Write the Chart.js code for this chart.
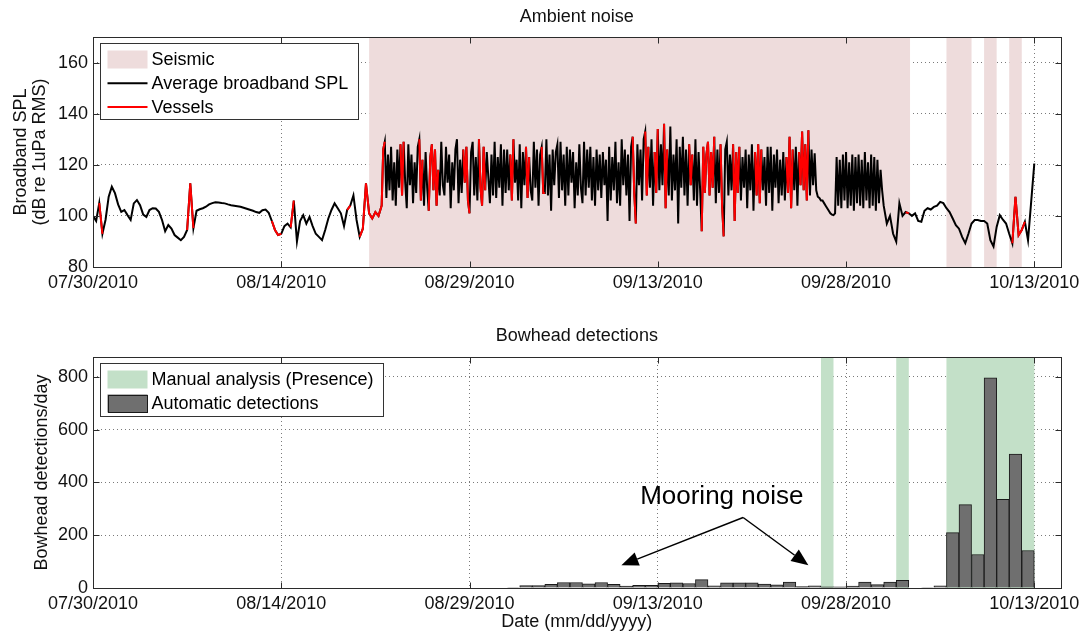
<!DOCTYPE html>
<html>
<head>
<meta charset="utf-8">
<title>Ambient noise and bowhead detections</title>
<script src="https://cdn.jsdelivr.net/npm/chart.js@4.4.0/dist/chart.umd.min.js"></script>
<style>
  body { margin: 0; background: #fff; }
  #wrap { position: relative; width: 1085px; height: 637px; }
  canvas { position: absolute; left: 0; }
  #noiseChart { top: 0; }
  #bowheadChart { top: 300px; }
</style>
</head>
<body>
<div id="wrap">
  <canvas id="noiseChart" width="1085" height="300"></canvas>
  <canvas id="bowheadChart" width="1085" height="337"></canvas>
</div>
<script>
// x axis is in days since 07/30/2010
var dateTicks = ['07/30/2010', '08/14/2010', '08/29/2010', '09/13/2010', '09/28/2010', '10/13/2010'];
var dateTickDays = [0, 15, 30, 45, 60, 75];
var xMaxDays = 77.1;

// broadband SPL (dB), before the survey: 6-hourly from day 0
var splEarlyStart = 0, splEarlyStep = 0.25;
var splEarly = [
  100, 98, 105, 93,          98.5, 107.5, 111.4, 108.9,  104.5, 101.6, 102.3, 100.3,
  98.4, 104.9, 106.2, 104.2, 100.5, 99.6, 102.3, 103,    102.9, 101.6, 98.4, 94,
  96.4, 95, 92.5, 91.5,      90.5, 91.8, 94.5, 112.7,    95.2, 102, 102.6, 103,
  103.6, 104.5, 105, 105.3,  105.2, 105, 104.9, 104.5,   104.2, 104, 103.8, 103.6,
  103.2, 102.8, 102.4, 102,  101.5, 101.2, 102.2, 102.5, 101.2, 98, 94.5, 92.5,
  93, 96, 97, 95.5,          106, 90, 98, 100.3,         97, 99.6, 96, 93,
  91.8, 90.5, 94.5, 99,      102.3, 104.9, 103, 101,     96, 102.3, 104, 108,
  98.4, 91.8, 95, 112.7,     101, 99, 101.5, 100
];
// during airgun activity: 3-hourly from day 23 to the end of day 62
var splSeismicStart = 23, splSeismicStep = 0.125;
var splSeismic = [
  104, 126, 129, 107, 124, 110, 127, 106,   121, 104, 126, 111, 128, 108, 129, 113,
  103, 128, 112, 124, 105, 121, 109, 127,   130, 106, 122, 104, 125, 111, 102, 123,
  128, 110, 126, 104, 118, 108, 129, 112,   108, 127, 113, 124, 103, 121, 110, 126,
  130, 105, 122, 109, 126, 113, 127, 106,   101, 125, 129, 108, 123, 106, 130, 111,
  104, 127, 110, 125, 115, 105, 124, 108,   129, 107, 123, 111, 128, 104, 126, 109,
  126, 110, 124, 106, 130, 113, 122, 106,   128, 103, 125, 112, 127, 107, 123, 110,
  106, 129, 111, 126, 104, 124, 127, 109,   109, 130, 108, 124, 102, 126, 112, 125,
  128, 107, 129, 110, 124, 104, 127, 108,   126, 113, 125, 103, 121, 108, 128, 111,
  105, 129, 108, 126, 111, 127, 106, 123,   104, 126, 110, 124, 107, 125, 112, 122,
  98, 127, 106, 123, 110, 129, 105, 121,    104, 130, 112, 126, 108, 124, 98, 127,
  131, 109, 97, 128, 112, 126, 106, 130,    133, 108, 127, 111, 130, 104, 125, 109,
  134, 110, 128, 112, 136, 103, 126, 108,   135, 106, 124, 110, 130, 97, 127, 111,
  131, 108, 126, 104, 128, 112, 124, 106,   130, 104, 125, 110, 94, 127, 109, 124,
  129, 108, 125, 111, 131, 105, 126, 109,   128, 104, 92, 126, 129, 108, 124, 110,
  128, 98, 125, 109, 127, 106, 123, 111,    126, 103, 124, 110, 128, 102, 125, 108,
  128, 105, 126, 110, 123, 104, 127, 109,   127, 102, 124, 111, 126, 105, 122, 108,
  125, 106, 123, 109, 131, 103, 126, 110,   127, 104, 125, 112, 133, 110, 128, 106,
  133.5, 108, 126, 112, 124.5, 110, 107.5, 107,
  106, 106, 105, 104, 103, 102, 101, 100.5, 100.3, 101, 123, 104, 122, 103, 124, 106,
  125, 103, 121, 104, 124, 102, 123, 105,   124, 104, 122, 103, 125, 106, 121, 103,
  124, 104, 123, 102, 122, 105, 118, 110
];
// after the survey: 6-hourly from day 63
var splLateStart = 63, splLateStep = 0.25;
var splLate = [
  104, 97, 100, 93,    89.9, 105, 100, 101.5, 101, 100, 101, 98,
  97.7, 102, 103, 102.5, 103.5, 104, 105.5, 105, 103, 101.5, 99, 96.4, 95, 91.8, 89.3, 93,
  97, 98.4, 98.4, 98,  98, 97, 90.5, 88,      95.7, 100.3, 98.5, 97, 93, 89.3, 107.5, 92.5,
  94.5, 97.7, 90.5, 105.5, 120.5
];
// periods (days) with vessels present
var vesselWindows = [
  [0.5, 0.75], [7.5, 8.0], [14.25, 15.0], [15.75, 16.0], [20.25, 20.5], [21.25, 22.75],
  [23.0, 23.25], [24.5, 24.75], [26.0, 26.25], [26.75, 27.5], [29.5, 30.0], [30.75, 31.25],
  [33.25, 33.5], [34.5, 34.75], [35.75, 36.0], [43.0, 43.25], [44.0, 44.25], [44.75, 45.0],
  [45.5, 45.75], [47.5, 47.75], [48.5, 49.5], [50.0, 50.25], [51.0, 51.5], [52.75, 53.25],
  [55.25, 55.75], [56.25, 57.0], [64.75, 65.0], [73.25, 74.25]
];
var seismicWindows = [[22, 65.1], [68, 70], [71, 72], [73, 74]];
var splTicks = [80, 100, 120, 140, 160];

// bowhead automatic detections per day, first bin starts on day 33
var detectFirstDay = 33;
var detectionsPerDay = [
  2, 9, 9, 14, 21, 21, 16, 21, 14, 7, 10, 10, 18, 20, 17, 32, 8, 20, 20, 20, 15, 12,
  22, 5, 8, 4, 4, 7, 22, 13, 22, 29, 0, 2, 8,
  210, 316, 127, 796, 336, 507, 142, 0, 0
];
var manualWindows = [[58, 59], [64, 65], [68, 75]];
var detectTicks = [0, 200, 400, 600, 800];

var seismicColor = '#eedcdc';
var manualColor = '#c3e0c8';
var barColor = '#6f6f6f';
var fontFamily = '"Liberation Sans", Arial, Helvetica, sans-serif';

function toPoints(values, start, step) {
  return values.map(function (v, i) { return { x: start + i * step, y: v }; });
}
var splPoints = toPoints(splEarly, splEarlyStart, splEarlyStep)
  .concat(toPoints(splSeismic, splSeismicStart, splSeismicStep))
  .concat(toPoints(splLate, splLateStart, splLateStep));

var vesselPoints = splPoints.map(function (p) {
  var hit = vesselWindows.some(function (w) { return p.x >= w[0] - 1e-6 && p.x <= w[1] + 1e-6; });
  return { x: p.x, y: hit ? p.y : null };
});
var detectionPoints = detectionsPerDay.map(function (v, i) {
  return { x: detectFirstDay + i + 0.5, y: v };
});

// shaded time windows behind the data
var bandsPlugin = {
  id: 'bands',
  beforeDatasetsDraw: function (chart, args, opts) {
    var ctx = chart.ctx, sx = chart.scales.x, a = chart.chartArea;
    ctx.save();
    ctx.fillStyle = opts.color;
    opts.windows.forEach(function (w) {
      var x0 = sx.getPixelForValue(w[0]), x1 = sx.getPixelForValue(w[1]);
      ctx.fillRect(x0, a.top, x1 - x0, a.bottom - a.top);
    });
    ctx.restore();
  }
};

// axes box with inward ticks, and the panel title
var framePlugin = {
  id: 'frame',
  afterDatasetsDraw: function (chart, args, opts) {
    var ctx = chart.ctx, a = chart.chartArea, sx = chart.scales.x, sy = chart.scales.y;
    var L = Math.round(a.left) + 0.5, R = Math.round(a.right) + 0.5;
    var T = Math.round(a.top) + 0.5, B = Math.round(a.bottom) + 0.5;
    ctx.save();
    ctx.strokeStyle = '#2b2b2b';
    ctx.lineWidth = 1;
    ctx.beginPath();
    sx.ticks.forEach(function (t) {
      var p = Math.round(sx.getPixelForValue(t.value)) + 0.5;
      ctx.moveTo(p, B); ctx.lineTo(p, B - 6);
      ctx.moveTo(p, T); ctx.lineTo(p, T + 6);
    });
    sy.ticks.forEach(function (t) {
      var p = Math.round(sy.getPixelForValue(t.value)) + 0.5;
      ctx.moveTo(L, p); ctx.lineTo(L + 6, p);
      ctx.moveTo(R, p); ctx.lineTo(R - 6, p);
    });
    ctx.stroke();
    ctx.strokeRect(L, T, R - L, B - T);

    ctx.fillStyle = '#111';
    ctx.font = '18px ' + fontFamily;
    ctx.textAlign = 'center';
    ctx.textBaseline = 'middle';
    ctx.fillText(opts.title, (a.left + a.right) / 2, opts.titleY);
    ctx.restore();
  }
};

// boxed legend in the upper left corner of the axes
var boxLegendPlugin = {
  id: 'boxLegend',
  afterDraw: function (chart, args, opts) {
    var ctx = chart.ctx, a = chart.chartArea;
    ctx.save();
    ctx.font = '18px ' + fontFamily;
    var textW = 0;
    opts.items.forEach(function (it) { textW = Math.max(textW, ctx.measureText(it.label).width); });
    var left = Math.round(a.left + 7) + 0.5, top = Math.round(a.top + 6) + 0.5;
    var w = Math.round(51 + textW + 10);
    var h = Math.round(16 + (opts.items.length - 1) * opts.rowH + 13);
    ctx.fillStyle = '#fff';
    ctx.fillRect(left, top, w, h);
    ctx.strokeStyle = '#333';
    ctx.lineWidth = 1;
    ctx.strokeRect(left, top, w, h);

    opts.items.forEach(function (it, i) {
      var cy = top + 16 + i * opts.rowH;
      if (it.type === 'patch') {
        ctx.fillStyle = it.color;
        ctx.fillRect(left + 7, cy - 9, 40, 18);
        if (it.edge) {
          ctx.strokeStyle = it.edge;
          ctx.strokeRect(Math.round(left + 7) + 0.5, Math.round(cy - 9) + 0.5, 39, 17);
        }
      } else {
        ctx.strokeStyle = it.color;
        ctx.lineWidth = 2;
        ctx.beginPath();
        ctx.moveTo(left + 7, cy);
        ctx.lineTo(left + 47, cy);
        ctx.stroke();
        ctx.lineWidth = 1;
      }
      ctx.fillStyle = '#000';
      ctx.textAlign = 'left';
      ctx.textBaseline = 'middle';
      ctx.fillText(it.label, left + 51, cy + 1);
    });
    ctx.restore();
  }
};

// "Mooring noise" note with two arrows, placed in data units
var mooringNote = { text: 'Mooring noise', at: [50.1, 344], from: [51.8, 267], to: [[42.1, 86], [57.0, 86]] };

var notePlugin = {
  id: 'note',
  afterDraw: function (chart) {
    var ctx = chart.ctx, sx = chart.scales.x, sy = chart.scales.y;
    var fx = sx.getPixelForValue(mooringNote.from[0]), fy = sy.getPixelForValue(mooringNote.from[1]);
    ctx.save();
    ctx.fillStyle = '#000';
    ctx.strokeStyle = '#000';
    ctx.lineWidth = 1.5;
    ctx.font = '26px ' + fontFamily;
    ctx.textAlign = 'center';
    ctx.textBaseline = 'middle';
    ctx.fillText(mooringNote.text, sx.getPixelForValue(mooringNote.at[0]), sy.getPixelForValue(mooringNote.at[1]));
    mooringNote.to.forEach(function (p) {
      var tx = sx.getPixelForValue(p[0]), ty = sy.getPixelForValue(p[1]);
      var ang = Math.atan2(ty - fy, tx - fx);
      var len = 17, half = 7;
      var bx = tx - len * Math.cos(ang), by = ty - len * Math.sin(ang);
      ctx.beginPath();
      ctx.moveTo(fx, fy);
      ctx.lineTo(bx, by);
      ctx.stroke();
      ctx.beginPath();
      ctx.moveTo(tx, ty);
      ctx.lineTo(bx + half * Math.sin(ang), by - half * Math.cos(ang));
      ctx.lineTo(bx - half * Math.sin(ang), by + half * Math.cos(ang));
      ctx.closePath();
      ctx.fill();
    });
    ctx.restore();
  }
};

function dateAxis(height, title) {
  return {
    type: 'linear',
    min: 0,
    max: xMaxDays,
    offset: false,
    afterFit: function (s) { s.height = height; },
    afterBuildTicks: function (s) { s.ticks = dateTickDays.map(function (d) { return { value: d }; }); },
    ticks: {
      autoSkip: false,
      maxRotation: 0,
      padding: 5,
      color: '#111',
      font: { family: fontFamily, size: 18 },
      callback: function (v) { var i = dateTickDays.indexOf(v); return i < 0 ? '' : dateTicks[i]; }
    },
    grid: { color: '#7a7a7a', lineWidth: 1, drawTicks: false, offset: false },
    border: { display: false, dash: [1, 3] },
    title: title
  };
}

function valueAxis(min, max, ticks, title) {
  return {
    type: 'linear',
    min: min,
    max: max,
    afterFit: function (s) { s.width = 93; },
    afterBuildTicks: function (s) { s.ticks = ticks.map(function (v) { return { value: v }; }); },
    ticks: { padding: 5, color: '#111', font: { family: fontFamily, size: 18 } },
    grid: { color: '#7a7a7a', lineWidth: 1, drawTicks: false },
    border: { display: false, dash: [1, 3] },
    title: title
  };
}

Chart.defaults.font.family = fontFamily;

new Chart(document.getElementById('noiseChart'), {
  type: 'line',
  data: {
    datasets: [
      { label: 'Vessels', data: vesselPoints, borderColor: '#ff0000', borderWidth: 2,
        pointRadius: 0, spanGaps: false, order: 0 },
      { label: 'Average broadband SPL', data: splPoints, borderColor: '#000', borderWidth: 2,
        pointRadius: 0, order: 1 }
    ]
  },
  options: {
    responsive: false,
    animation: false,
    devicePixelRatio: 1,
    layout: { padding: { left: 0, right: 24, top: 37, bottom: 0 } },
    plugins: {
      legend: { display: false },
      tooltip: { enabled: false },
      bands: { windows: seismicWindows, color: seismicColor },
      frame: { title: 'Ambient noise', titleY: 17 },
      boxLegend: {
        rowH: 23.7,
        items: [
          { type: 'patch', color: seismicColor, label: 'Seismic' },
          { type: 'line', color: '#000', label: 'Average broadband SPL' },
          { type: 'line', color: '#ff0000', label: 'Vessels' }
        ]
      }
    },
    scales: {
      x: dateAxis(33, { display: false }),
      y: valueAxis(80, 170, splTicks, {
        display: true,
        text: ['Broadband SPL', '(dB re 1uPa RMS)'],
        color: '#111',
        font: { family: fontFamily, size: 18, lineHeight: 1.05 },
        padding: { top: 11.5, bottom: 0 }
      })
    }
  },
  plugins: [bandsPlugin, framePlugin, boxLegendPlugin]
});

new Chart(document.getElementById('bowheadChart'), {
  type: 'bar',
  data: {
    datasets: [
      { label: 'Automatic detections', data: detectionPoints, backgroundColor: barColor,
        borderColor: '#1a1a1a', borderWidth: 1, barPercentage: 1, categoryPercentage: 1 }
    ]
  },
  options: {
    responsive: false,
    animation: false,
    devicePixelRatio: 1,
    layout: { padding: { left: 0, right: 24, top: 57, bottom: 0 } },
    plugins: {
      legend: { display: false },
      tooltip: { enabled: false },
      bands: { windows: manualWindows, color: manualColor },
      frame: { title: 'Bowhead detections', titleY: 36.5 },
      boxLegend: {
        rowH: 24,
        items: [
          { type: 'patch', color: manualColor, label: 'Manual analysis (Presence)' },
          { type: 'patch', color: barColor, edge: '#1a1a1a', label: 'Automatic detections' }
        ]
      }
    },
    scales: {
      x: dateAxis(49, {
        display: true,
        text: 'Date (mm/dd/yyyy)',
        color: '#111',
        font: { family: fontFamily, size: 18 },
        padding: { top: 0, bottom: 4 }
      }),
      y: valueAxis(0, 875, detectTicks, {
        display: true,
        text: 'Bowhead detections/day',
        color: '#111',
        font: { family: fontFamily, size: 18 },
        padding: { top: 31, bottom: 0 }
      })
    }
  },
  plugins: [bandsPlugin, framePlugin, boxLegendPlugin, notePlugin]
});
</script>
</body>
</html>
